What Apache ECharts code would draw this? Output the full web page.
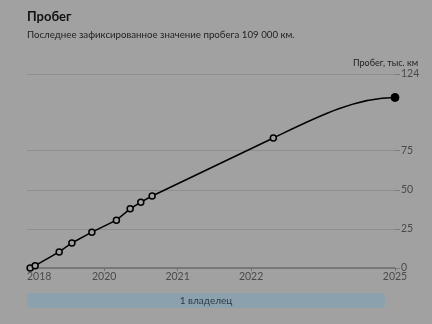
<!DOCTYPE html>
<html><head><meta charset="utf-8">
<script src="https://cdn.jsdelivr.net/npm/echarts@6/dist/echarts.min.js"></script>
<style>html,body{margin:0;padding:0;background:#a1a1a1;}#c{width:432px;height:324px;}</style>
</head><body><div id="c"></div>
<script>
// data: x in fractional years, y in thousand km
const dates = [2018.993, 2019.061, 2019.388, 2019.561, 2019.833, 2020.167, 2020.354, 2020.499, 2020.653, 2022.303, 2023.959];
const mileage = [0, 1.5, 10.3, 16, 22.9, 30.6, 37.8, 42.1, 46, 83.1, 109];
const xTickValues = [2018.95, 2020, 2021, 2022, 2023.959];
const xTickLabels = ['2018', '2020', '2021', '2022', '2025'];
const yTickValues = [0, 25, 50, 75, 124];
const owners = ['1 владелец'];
const ownerStart = [2018.95];
const ownerEnd = [2023.959];

const xMin = 2018.95, xMax = dates[dates.length - 1];
const FONT = 'Lato';
const BG = '#a1a1a1';
const chart = echarts.init(document.getElementById('c'), null, {renderer: 'canvas'});
const pts = dates.map((d, i) => [d, mileage[i]]);
chart.setOption({
  backgroundColor: BG,
  animation: false,
  title: {
    text: 'Пробег',
    subtext: 'Последнее зафиксированное значение пробега 109 000 км.',
    left: 22, top: 5,
    itemGap: 7,
    textStyle: {fontFamily: FONT, fontSize: 13, fontWeight: 'bold', color: '#111'},
    subtextStyle: {fontFamily: FONT, fontSize: 9.7, color: '#1e1e1e'}
  },
  grid: [
    {left: 27, right: 37, top: 74, bottom: 56},
    {left: 27, right: 42, top: 293, height: 15}
  ],
  xAxis: [{
    type: 'value', gridIndex: 0, min: xMin, max: xMax,
    axisLine: {show: true, lineStyle: {color: '#6e6e6e', width: 1.5}},
    axisTick: {show: true, length: 3, inside: false, customValues: xTickValues.slice(1), lineStyle: {color: '#6e6e6e'}},
    splitLine: {show: false},
    axisLabel: {
      customValues: xTickValues, margin: 3, alignMinLabel: 'left',
      fontFamily: FONT, fontSize: 10.5, color: '#4a4a4a',
      formatter: v => { const i = xTickValues.indexOf(v); return i >= 0 ? xTickLabels[i] : ''; }
    }
  }, {
    type: 'value', gridIndex: 1, min: xMin, max: xMax, show: false
  }],
  yAxis: [{
    type: 'value', gridIndex: 0, position: 'right', min: 0, max: 124,
    name: 'Пробег, тыс. км', nameLocation: 'end', nameGap: 6,
    nameTextStyle: {fontFamily: FONT, fontSize: 9, color: '#1e1e1e', align: 'right', padding: [0, -23, 0, 0]},
    axisLine: {show: false},
    axisTick: {show: true, length: 5, customValues: yTickValues, lineStyle: {color: '#7e7e7e'}},
    splitLine: {show: true, lineStyle: {color: '#8e8e8e', width: 1}},
    axisLabel: {customValues: yTickValues, margin: 6, fontFamily: FONT, fontSize: 10.5, color: '#4a4a4a'}
  }, {
    type: 'value', gridIndex: 1, min: 0, max: 1, show: false
  }],
  series: [{
    // the mileage line: straight segments, last segment eased into the final reading
    type: 'custom', xAxisIndex: 0, yAxisIndex: 0, z: 2,
    data: [[dates[0], mileage[0]]],
    renderItem: (params, api) => {
      const c = pts.map(p => api.coord(p));
      const n = c.length;
      let d = 'M' + c[0][0] + ' ' + c[0][1];
      for (let i = 1; i < n - 1; i++) d += ' L' + c[i][0] + ' ' + c[i][1];
      const a = c[n - 2], b = c[n - 1], pr = c[n - 3];
      const slope = (a[1] - pr[1]) / (a[0] - pr[0]);
      const dx = (b[0] - a[0]) / 3;
      d += ' C' + (a[0] + dx) + ' ' + (a[1] + dx * slope) + ' ' + (b[0] - dx) + ' ' + b[1] + ' ' + b[0] + ' ' + b[1];
      return {type: 'path', shape: {pathData: d}, style: {fill: 'none', stroke: '#000', lineWidth: 1.5}};
    }
  }, {
    type: 'line', xAxisIndex: 0, yAxisIndex: 0, z: 3,
    data: pts.map((p, i) => ({
      value: p,
      symbolSize: i === pts.length - 1 ? 8 : 6,
      itemStyle: i === pts.length - 1 ? {color: '#000', borderColor: '#000'} : {color: BG, borderColor: '#000', borderWidth: 1.5}
    })),
    symbol: 'circle', showAllSymbol: true,
    lineStyle: {width: 0, opacity: 0}
  }, {
    type: 'custom', xAxisIndex: 1, yAxisIndex: 1,
    data: owners.map((o, i) => [ownerStart[i], ownerEnd[i]]),
    renderItem: (params, api) => {
      const s = api.coord([api.value(0), 1]);
      const e = api.coord([api.value(1), 0]);
      const x0 = s[0], x1 = e[0] - 5;
      return {
        type: 'group', children: [
          {type: 'rect', shape: {x: x0, y: s[1], width: x1 - x0, height: e[1] - s[1], r: 3}, style: {fill: '#8ba1ad'}},
          {type: 'text', style: {text: owners[params.dataIndex], x: (x0 + x1) / 2, y: (s[1] + e[1]) / 2, align: 'center', verticalAlign: 'middle', fontFamily: FONT, fontSize: 10, fill: '#2e3b47'}}
        ]
      };
    }
  }]
});
</script></body></html>
